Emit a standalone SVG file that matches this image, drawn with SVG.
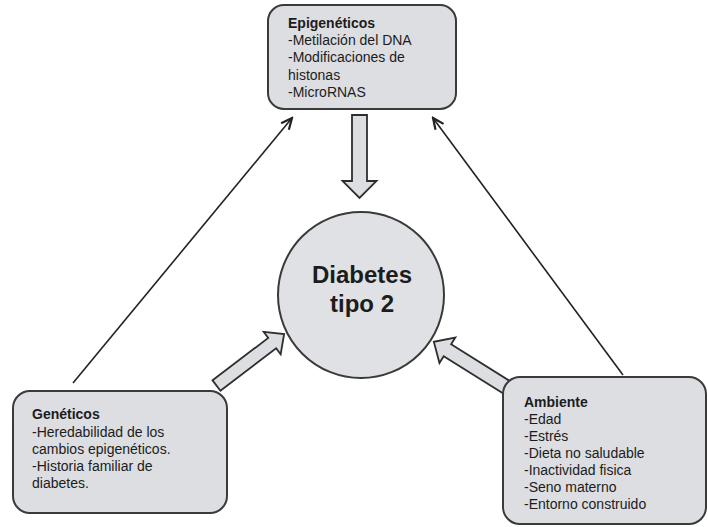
<svg xmlns="http://www.w3.org/2000/svg" width="708" height="527" viewBox="0 0 708 527">
<defs>
<style>
.box{fill:#dcdee1;stroke:#3a3a3a;stroke-width:2}
.blk{fill:#dcdee1;stroke:#2e2e2e;stroke-width:1.8;stroke-linejoin:miter}
.ln{stroke:#222;stroke-width:1.6;fill:none}
text{font-family:"Liberation Sans",Arial,sans-serif;font-size:14px;fill:#1c1c1c}
.h{font-weight:bold}
.big{font-weight:bold;font-size:24px;text-anchor:middle}
</style>
<marker id="ah" markerUnits="userSpaceOnUse" markerWidth="14" markerHeight="12" viewBox="0 0 14 12" refX="12" refY="6" orient="auto">
<path d="M1,1 L12,6 L1,11" fill="none" stroke="#222" stroke-width="2.2"/>
</marker>
</defs>
<rect width="708" height="527" fill="#ffffff"/>
<g id="connectors">
<line class="ln" x1="73" y1="383" x2="292" y2="118" marker-end="url(#ah)"/>
<line class="ln" x1="623" y1="375" x2="433" y2="118" marker-end="url(#ah)"/>
<polygon class="blk" transform="translate(359.5,115) rotate(90)" points="0,-7.5 66,-7.5 66,-17 83,0 66,17 66,7.5 0,7.5"/>
<polygon class="blk" transform="translate(216.5,385.5) rotate(-37.3)" points="0,-6.5 70,-6.5 70,-14 85,0 70,14 70,6.5 0,6.5"/>
<polygon class="blk" transform="translate(511,390) rotate(212)" points="0,-7 75,-7 75,-15 91,0 75,15 75,7 0,7"/>
</g>
<g id="epigeneticos">
<rect class="box" x="268" y="5" width="188" height="104" rx="16"/>
<text class="h" x="288" y="28">Epigenéticos</text>
<text x="288" y="44.5">-Metilación del DNA</text>
<text x="288" y="62">-Modificaciones de</text>
<text x="288" y="79.5">histonas</text>
<text x="288" y="97">-MicroRNAS</text>
</g>
<g id="diabetes">
<circle cx="361" cy="295" r="83" fill="#dfe1e4" stroke="#3a3a3a" stroke-width="2"/>
<text class="big" x="362" y="283">Diabetes</text>
<text class="big" x="362" y="312">tipo 2</text>
</g>
<g id="geneticos">
<rect class="box" x="13" y="391" width="214" height="122" rx="17"/>
<text class="h" x="32" y="419">Genéticos</text>
<text x="32" y="436.5">-Heredabilidad de los</text>
<text x="32" y="454">cambios epigenéticos.</text>
<text x="32" y="471">-Historia familiar de</text>
<text x="32" y="488">diabetes.</text>
</g>
<g id="ambiente">
<rect class="box" x="503" y="377" width="203" height="147" rx="17"/>
<text class="h" x="524" y="407">Ambiente</text>
<text x="524" y="424">-Edad</text>
<text x="524" y="441">-Estrés</text>
<text x="524" y="458">-Dieta no saludable</text>
<text x="524" y="475">-Inactividad fisica</text>
<text x="524" y="492">-Seno materno</text>
<text x="524" y="509">-Entorno construido</text>
</g>
</svg>
